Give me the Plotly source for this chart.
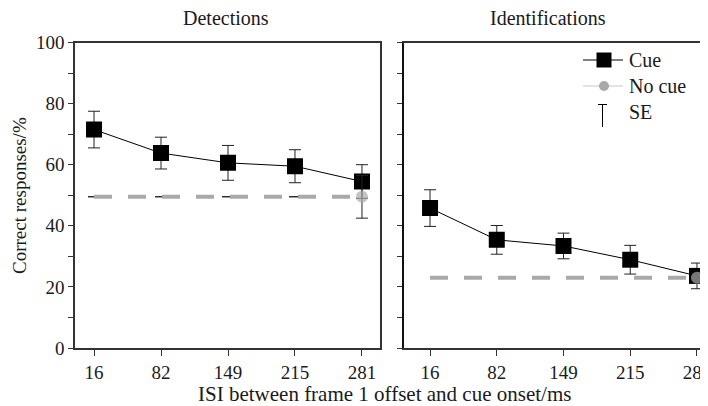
import plotly.graph_objects as go

W, H = 708, 406
OFF = 8  # page body margin offset

isi_labels = ["16", "82", "149", "215", "281"]

det_cue = [71.5, 63.8, 60.6, 59.5, 54.5]
det_cue_se = [6.0, 5.2, 5.7, 5.4, 5.5]
det_nocue = [49.5, 49.5, 49.5, 49.5, 49.5]
det_nocue_se = [None, None, None, None, 7.0]

id_cue = [45.8, 35.4, 33.4, 28.9, 23.6]
id_cue_se = [6.0, 4.7, 4.2, 4.7, 4.2]
id_nocue = [23.0, 23.0, 23.0, 23.0, 23.0]

panel_titles = ["Detections", "Identifications"]
legend_labels = ["Cue", "No cue", "SE"]

FONT = "Liberation Serif, Times New Roman, Times, serif"
GREY = "#a9a9a9"
AX = "#333333"
TXT = "#1a1a1a"

def px(x):
    return (x - OFF) / W

def py(y):
    return 1 - (y - OFF) / H

fig = go.Figure()
nocue_marker_sizes = [0, 0, 0, 0, 12]

fig.add_trace(go.Scatter(
    x=isi_labels, y=det_cue, mode="lines+markers",
    line=dict(color="black", width=1),
    marker=dict(symbol="square", size=16, color="black"),
    error_y=dict(type="data", array=det_cue_se, color="#222", thickness=1, width=6),
    xaxis="x", yaxis="y", showlegend=False))
fig.add_trace(go.Scatter(
    x=isi_labels, y=det_nocue, mode="lines+markers",
    line=dict(color=GREY, width=4, dash="18px,16px"),
    marker=dict(symbol="circle", size=nocue_marker_sizes, color=GREY, line=dict(width=0)),
    error_y=dict(type="data", array=det_nocue_se, color="#222", thickness=1, width=6),
    xaxis="x", yaxis="y", showlegend=False))
fig.add_trace(go.Scatter(
    x=isi_labels, y=id_cue, mode="lines+markers",
    line=dict(color="black", width=1),
    marker=dict(symbol="square", size=16, color="black"),
    error_y=dict(type="data", array=id_cue_se, color="#222", thickness=1, width=6),
    xaxis="x2", yaxis="y2", showlegend=False))
fig.add_trace(go.Scatter(
    x=isi_labels, y=id_nocue, mode="lines+markers",
    line=dict(color=GREY, width=4, dash="18px,16px"),
    marker=dict(symbol="circle", size=nocue_marker_sizes, color=GREY, line=dict(width=0)),
    xaxis="x2", yaxis="y2", showlegend=False))

ydom = [py(348), py(42.5)]
tickfont = dict(family=FONT, size=19, color=TXT)

fig.update_layout(
    width=W, height=H, autosize=False,
    margin=dict(l=0, r=0, t=0, b=0, pad=0, autoexpand=False),
    paper_bgcolor="white", plot_bgcolor="white",
    font=dict(family=FONT, size=19, color=TXT),
    xaxis=dict(domain=[px(75), px(380)], type="category", range=[-0.284, 4.269],
               showline=True, linecolor=AX, linewidth=1.5, mirror=True,
               ticks="outside", ticklen=6, tickcolor=AX, tickwidth=1, automargin=False,
               showgrid=False, zeroline=False, tickfont=tickfont, anchor="y"),
    yaxis=dict(domain=ydom, range=[0, 100], tickvals=[0, 20, 40, 60, 80, 100],
               showline=True, linecolor=AX, linewidth=1.5, mirror=True, automargin=False,
               ticks="outside", ticklen=5, tickcolor=AX, tickwidth=1,
               minor=dict(ticks="outside", tickvals=[10, 30, 50, 70, 90], ticklen=5,
                          tickcolor=AX, tickwidth=1, showgrid=False),
               showgrid=False, zeroline=False, tickfont=tickfont, anchor="x"),
    xaxis2=dict(domain=[px(404), 1.0], type="category", range=[-0.39, 4.285],
                showline=True, linecolor=AX, linewidth=1.5, mirror=True, automargin=False,
                ticks="outside", ticklen=6, tickcolor=AX, tickwidth=1,
                showgrid=False, zeroline=False, tickfont=tickfont, anchor="y2"),
    yaxis2=dict(domain=ydom, range=[0, 100], tickvals=[0, 10, 20, 30, 40, 50, 60, 70, 80, 90, 100],
                showticklabels=False, automargin=False,
                showline=True, linecolor="#111", linewidth=2,
                ticks="outside", ticklen=5, tickcolor=AX, tickwidth=1,
                showgrid=False, zeroline=False, anchor="x2"),
)

shapes = []
shapes.append(dict(type="line", xref="paper", yref="paper",
                   x0=px(583), x1=px(623), y0=py(60), y1=py(60),
                   line=dict(color="black", width=1)))
shapes.append(dict(type="rect", xref="paper", yref="paper",
                   x0=px(596.5), x1=px(611.5), y0=py(67.5), y1=py(52.5),
                   line=dict(width=0), fillcolor="black"))
shapes.append(dict(type="line", xref="paper", yref="paper",
                   x0=px(583), x1=px(623), y0=py(86), y1=py(86),
                   line=dict(color="#c8c8c8", width=1)))
shapes.append(dict(type="circle", xref="paper", yref="paper",
                   x0=px(599), x1=px(609), y0=py(91), y1=py(81),
                   line=dict(width=0), fillcolor=GREY))
shapes.append(dict(type="line", xref="paper", yref="paper",
                   x0=px(598), x1=px(607), y0=py(104.5), y1=py(104.5),
                   line=dict(color="black", width=1)))
shapes.append(dict(type="line", xref="paper", yref="paper",
                   x0=px(602.5), x1=px(602.5), y0=py(104.5), y1=py(127),
                   line=dict(color="black", width=1)))
fig.update_layout(shapes=shapes)

def ann(text, x, y, size=19, angle=0, xanchor="center"):
    return dict(text=text, x=px(x), y=py(y), xref="paper", yref="paper",
                xanchor=xanchor, yanchor="middle", showarrow=False, textangle=angle,
                font=dict(family=FONT, size=size, color=TXT))

annotations = [
    ann(panel_titles[0], 226, 18, 20),
    ann(panel_titles[1], 548, 18, 20),
    ann("Correct responses/%", 19, 196, 19, -90),
    ann("ISI between frame 1 offset and cue onset/ms", 385, 394, 21),
]
for lab, yy in zip(legend_labels, [60, 86, 112]):
    annotations.append(ann(lab, 627, yy, 20, 0, "left"))
fig.update_layout(annotations=annotations)

fig.write_html("out.html")
